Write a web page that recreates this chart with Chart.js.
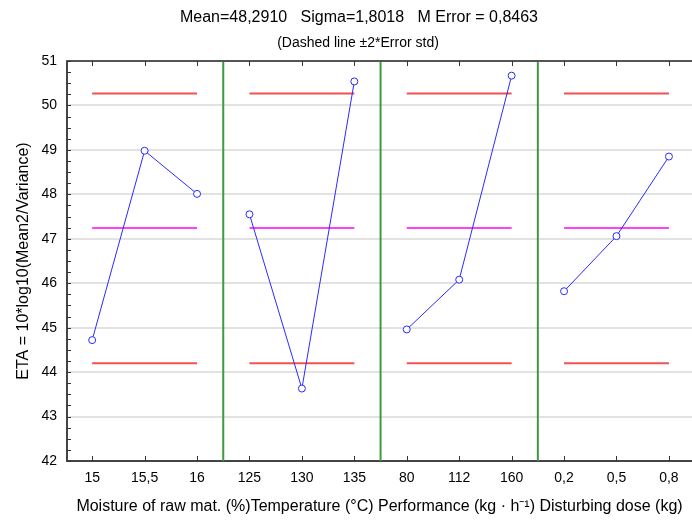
<!DOCTYPE html>
<html>
<head>
<meta charset="utf-8">
<script src="https://cdn.jsdelivr.net/npm/chart.js@4.4.1/dist/chart.umd.min.js"></script>
<style>
  html, body { margin: 0; padding: 0; background: #fff; }
  #wrap { width: 692px; height: 520px; }
</style>
</head>
<body>
<div id="wrap"><canvas id="c" width="692" height="520"></canvas></div>
<script>
// ---- Data ----
const xLabels = ['15', '15,5', '16', '125', '130', '135', '80', '112', '160', '0,2', '0,5', '0,8'];
const xAxisTitle = 'Moisture of raw mat. (%)Temperature (°C) Performance (kg · h⁻¹) Disturbing dose (kg)';
const etaMoisture = [44.72, 48.98, 48.01];
const etaTemperature = [47.55, 43.63, 50.54];
const etaPerformance = [44.96, 46.08, 50.67];
const etaDose = [45.82, 47.06, 48.85];
const meanLevel = 47.24;
const upperLevel = 50.27;
const lowerLevel = 44.20;
const yTicks = [42, 43, 44, 45, 46, 47, 48, 49, 50, 51];
const titleText = 'Mean=48,2910   Sigma=1,8018   M Error = 0,8463';
const subtitleText = '(Dashed line ±2*Error std)';
const yTitle = 'ETA = 10*log10(Mean2/Variance)';

const groups = [etaMoisture, etaTemperature, etaPerformance, etaDose];
const FONT = '"Liberation Sans", Arial, sans-serif';

const datasets = [];
groups.forEach((vals, g) => {
  datasets.push({
    data: vals.map((v, i) => ({ x: g * 3 + i, y: v })),
    borderColor: '#2a2aff', borderWidth: 1,
    pointRadius: 3.5, pointBorderWidth: 1,
    pointBorderColor: '#2a2aff', pointBackgroundColor: '#ffffff',
    order: 0
  });
  [[upperLevel, 'rgba(240,50,50,0.85)', 2], [meanLevel, '#ff00ff', 1.5], [lowerLevel, 'rgba(240,50,50,0.85)', 2]].forEach(([lv, col, w]) => {
    datasets.push({
      data: [{ x: g * 3, y: lv }, { x: g * 3 + 2, y: lv }],
      borderColor: col, borderWidth: w, pointRadius: 0, order: 1
    });
  });
  if (g < groups.length - 1) {
    datasets.push({
      data: [{ x: g * 3 + 2.5, y: yTicks[0] }, { x: g * 3 + 2.5, y: yTicks[yTicks.length - 1] }],
      borderColor: '#3f9a3f', borderWidth: 2, pointRadius: 0, order: 2
    });
  }
});

const decor = {
  id: 'decor',
  afterDraw(chart) {
    const ctx = chart.ctx;
    const { left, right, top, bottom } = chart.chartArea;
    const xs = chart.scales.x, ys = chart.scales.y;
    ctx.save();
    // top border
    ctx.strokeStyle = '#555';
    ctx.lineWidth = 2;
    ctx.beginPath(); ctx.moveTo(left - 1, top); ctx.lineTo(right, top); ctx.stroke();
    // y minor ticks (inward)
    ctx.strokeStyle = '#333';
    ctx.lineWidth = 1;
    for (let v = yTicks[0]; v <= yTicks[yTicks.length - 1] + 1e-9; v += 0.25) {
      const y = Math.round(ys.getPixelForValue(v)) + 0.5;
      ctx.beginPath(); ctx.moveTo(left, y); ctx.lineTo(left + 4, y); ctx.stroke();
    }
    // x ticks top and bottom (inward)
    for (let i = 0; i < xLabels.length; i++) {
      const x = Math.round(xs.getPixelForValue(i)) + 0.5;
      ctx.beginPath(); ctx.moveTo(x, bottom); ctx.lineTo(x, bottom - 5); ctx.stroke();
      ctx.beginPath(); ctx.moveTo(x, top); ctx.lineTo(x, top + 5); ctx.stroke();
    }
    // titles
    ctx.fillStyle = '#000';
    ctx.textBaseline = 'middle';
    ctx.textAlign = 'center';
    ctx.font = '16px ' + FONT;
    ctx.fillText(titleText, 359, 18);
    ctx.font = '14px ' + FONT;
    ctx.fillText(subtitleText, 358, 43);
    // x axis title
    ctx.font = '16px ' + FONT;
    ctx.fillText(xAxisTitle, (left + right) / 2, 507);
    // y title
    ctx.translate(24, (top + bottom) / 2);
    ctx.rotate(-Math.PI / 2);
    ctx.fillText(yTitle, 0, 0);
    ctx.restore();
  }
};

new Chart(document.getElementById('c'), {
  type: 'line',
  data: { datasets },
  plugins: [decor],
  options: {
    responsive: false,
    devicePixelRatio: 1,
    animation: false,
    layout: { autoPadding: false, padding: { left: 0, right: 0, top: 61, bottom: 0 } },
    plugins: { legend: { display: false }, tooltip: { enabled: false }, title: { display: false } },
    scales: {
      x: {
        type: 'linear', min: -0.48, max: 11.44,
        afterBuildTicks: (s) => { s.ticks = xLabels.map((_, i) => ({ value: i })); },
        afterFit: (s) => { s.height = 59; s.paddingLeft = 0; s.paddingRight = 0; },
        ticks: {
          autoSkip: false, maxRotation: 0, padding: 9, color: '#000',
          font: { family: FONT, size: 14 },
          callback: (v) => xLabels[v]
        },
        grid: { display: false, drawTicks: false },
        border: { display: true, color: '#444', width: 2 }
      },
      y: {
        min: yTicks[0], max: yTicks[yTicks.length - 1],
        afterBuildTicks: (s) => { s.ticks = yTicks.map(v => ({ value: v })); },
        afterFit: (s) => { s.width = 67; s.paddingTop = 0; s.paddingBottom = 0; },
        ticks: { padding: 10, color: '#000', font: { family: FONT, size: 14 } },
        grid: { color: '#e2e2e2', lineWidth: 2, drawTicks: false },
        border: { display: true, color: '#444', width: 2 }
      }
    }
  }
});
</script>
</body>
</html>
